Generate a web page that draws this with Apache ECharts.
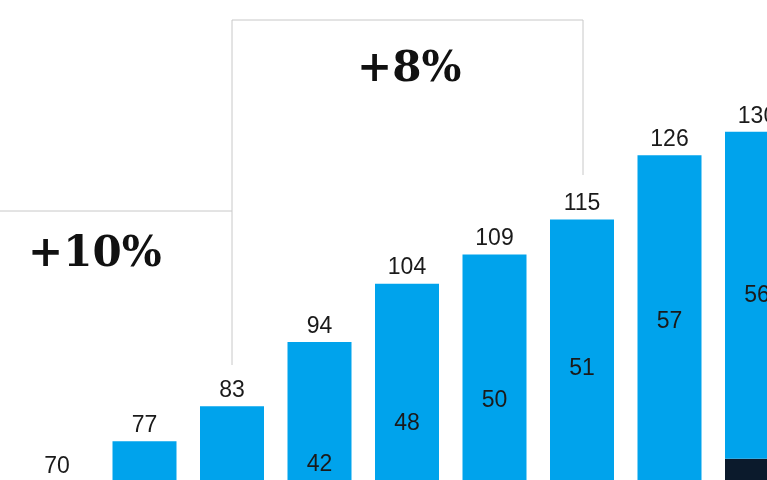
<!DOCTYPE html>
<html><head><meta charset="utf-8">
<script src="https://cdn.jsdelivr.net/npm/echarts@6/dist/echarts.min.js"></script>
<style>html,body{margin:0;padding:0;background:#fff}#c{width:767px;height:480px}</style>
</head><body><div id="c"></div>
<script>
const categories = ['1','2','3','4','5','6','7','8','9'];
const totals = [70, 77, 83, 94, 104, 109, 115, 126, 130];
const upper = [32, 36, 39, 42, 48, 50, 51, 57, 56];
const lower = totals.map((t, i) => t - upper[i]);
const growthLabels = ['+10%', '+8%'];

const chart = echarts.init(document.getElementById('c'));
const font = '"Liberation Sans", Arial, sans-serif';
chart.setOption({
  animation: false,
  grid: { left: 13.25, top: 15, width: 787.5, height: 876, outerBoundsMode: 'none' },
  xAxis: { type: 'category', data: categories, show: false },
  yAxis: { type: 'value', min: 0, max: 150, show: false },
  series: [
    { type: 'bar', stack: 's', data: lower, barWidth: 64, itemStyle: { color: '#0b1a2c' } },
    { type: 'bar', stack: 's', data: upper, barWidth: 64, itemStyle: { color: '#00a3ec' },
      label: { show: true, position: 'inside', color: '#1a1a1a', fontSize: 23, fontFamily: font } },
    { type: 'bar', stack: 's', data: totals.map(() => 0), barWidth: 64,
      label: { show: true, position: 'top', distance: 4, color: '#1a1a1a', fontSize: 23, fontFamily: font,
        formatter: p => totals[p.dataIndex] } }
  ],
  graphic: [
    { type: 'polyline', shape: { points: [[0, 211], [232, 211], [232, 365]] }, style: { stroke: '#c8c8c8', lineWidth: 1, fill: null } },
    { type: 'polyline', shape: { points: [[232, 211], [232, 20], [583, 20], [583, 175]] }, style: { stroke: '#c8c8c8', lineWidth: 1, fill: null } },
    { type: 'text', left: 28, top: 234, style: { text: growthLabels[0], font: 'bold 42px "DejaVu Serif", "Liberation Serif", serif', fill: '#111' } },
    { type: 'text', left: 357, top: 49, style: { text: growthLabels[1], font: 'bold 42px "DejaVu Serif", "Liberation Serif", serif', fill: '#111' } }
  ]
});
</script></body></html>
